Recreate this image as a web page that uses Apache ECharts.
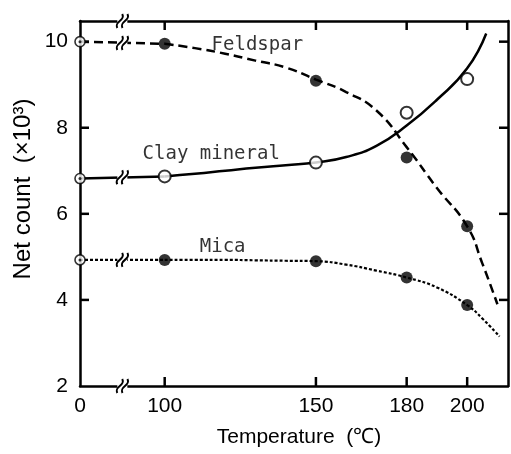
<!DOCTYPE html>
<html>
<head>
<meta charset="utf-8">
<script src="https://cdn.jsdelivr.net/npm/echarts@6/dist/echarts.min.js"></script>
<style>html,body{margin:0;padding:0;background:#fff}#c{width:511px;height:454px}</style>
</head>
<body>
<div id="c"></div>
<script>
// ---- data ----
const temps = [0, 100, 150, 180, 200];
const xTickLabels = [0, 100, 150, 180, 200];
const yTickLabels = [2, 4, 6, 8, 10];

const feldsparPts = [10.0, 9.95, 9.09, 7.31, 5.71];
const clayPts     = [6.82, 6.87, 7.19, 8.35, 9.13];
const micaPts     = [4.93, 4.93, 4.90, 4.52, 3.88];

// fitted curves (from 100 °C on)
const feldsparCurveT = [100, 110, 120, 130, 140, 150, 160, 170, 180, 190, 200, 205, 210];
const feldsparCurveV = [9.95, 9.85, 9.72, 9.56, 9.40, 9.12, 8.83, 8.40, 7.55, 6.60, 5.71, 4.85, 3.90];

const clayCurveT = [100, 110, 120, 130, 140, 150, 160, 170, 180, 190, 200, 206.3];
const clayCurveV = [6.87, 6.93, 7.00, 7.07, 7.13, 7.19, 7.32, 7.58, 8.05, 8.65, 9.38, 10.19];

const micaCurveT = [100, 110, 120, 130, 140, 150, 160, 170, 180, 190, 200, 205, 210.7];
const micaCurveV = [4.93, 4.93, 4.93, 4.92, 4.91, 4.90, 4.82, 4.68, 4.52, 4.29, 3.88, 3.57, 3.15];

const seriesNames = ['Feldspar', 'Clay mineral', 'Mica'];
const breakLevels = [9.97, 6.85, 4.93];   // curve heights at the axis break

// ---- broken-axis mapping ----
const ZERO_POS = 72, BREAK_POS = 86, X_MAX = 213.5, Y_MIN = 2, Y_MAX = 10.48;
const pos = t => (t === 0 ? ZERO_POS : t);
const pairs = (ts, vs) => ts.map((t, i) => [pos(t), vs[i]]);

const font = 'Liberation Sans, Arial, sans-serif';
const black = '#000';
const TICK_LEN = 9;

function firstPt(vals) { return [[pos(temps[0]), vals[0]]]; }
function restPts(vals) { return temps.slice(1).map((t, i) => [pos(t), vals[i + 1]]); }
function stub(vals) { return pairs(temps.slice(0, 2), vals.slice(0, 2)); }   // straight 0 -> 100 segment

const breakData = [[BREAK_POS, Y_MAX], [BREAK_POS, Y_MIN]].concat(breakLevels.map(v => [BREAK_POS, v]));
const xTickData = [];
xTickLabels.slice(1).forEach(t => { xTickData.push([t, Y_MIN, 1]); xTickData.push([t, Y_MAX, -1]); });
const yTickData = [];
yTickLabels.slice(1).forEach(v => { yTickData.push([ZERO_POS, v, 1]); yTickData.push([X_MAX, v, -1]); });

const chart = echarts.init(document.getElementById('c'), null, {renderer: 'canvas'});
const axisLineStyle = {color: black, width: 2.5};
const opens = firstPt(feldsparPts).concat(firstPt(clayPts), firstPt(micaPts));

const styles = [
  {color: black, width: 2.5, type: [9, 5]},
  {color: black, width: 2.5, type: 'solid'},
  {color: black, width: 2.2, type: [3, 2]}
];
const curves = [pairs(feldsparCurveT, feldsparCurveV), pairs(clayCurveT, clayCurveV), pairs(micaCurveT, micaCurveV)];
const stubs = [stub(feldsparPts), stub(clayPts), stub(micaPts)];

const lineSeries = [];
for (let i = 0; i < 3; i++) {
  lineSeries.push({type: 'line', name: seriesNames[i], data: curves[i], smooth: 0.5,
    showSymbol: false, symbol: 'none', lineStyle: styles[i], z: 2});
  lineSeries.push({type: 'line', name: seriesNames[i], data: stubs[i], smooth: false,
    showSymbol: false, symbol: 'none', lineStyle: styles[i], z: 2});
}

chart.setOption({
  animation: false,
  backgroundColor: '#fff',
  grid: {left: 80, right: 3, top: 21, bottom: 68},
  xAxis: [{
    type: 'value', min: ZERO_POS, max: X_MAX, position: 'bottom',
    axisLine: {show: true, onZero: false, lineStyle: axisLineStyle},
    axisTick: {show: false},
    axisLabel: {customValues: xTickLabels.map(pos), formatter: v => (v === ZERO_POS ? '0' : String(v)),
      color: black, fontSize: 21, fontFamily: font, margin: 10},
    splitLine: {show: false},
    name: 'Temperature  (\u2103)', nameLocation: 'middle', nameGap: 41,
    nameTextStyle: {color: black, fontSize: 21, fontFamily: font, padding: [0, 0, 0, 10]}
  }, {
    type: 'value', min: ZERO_POS, max: X_MAX, position: 'top',
    axisLine: {show: true, onZero: false, lineStyle: axisLineStyle},
    axisTick: {show: false}, axisLabel: {show: false}, splitLine: {show: false}
  }],
  yAxis: [{
    type: 'value', min: Y_MIN, max: Y_MAX, position: 'left',
    axisLine: {show: true, onZero: false, lineStyle: axisLineStyle},
    axisTick: {show: false},
    axisLabel: {customValues: yTickLabels, color: black, fontSize: 21, fontFamily: font, margin: 12},
    splitLine: {show: false}
  }, {
    type: 'value', min: Y_MIN, max: Y_MAX, position: 'right',
    axisLine: {show: true, onZero: false, lineStyle: axisLineStyle},
    axisTick: {show: false}, axisLabel: {show: false}, splitLine: {show: false}
  }],
  graphic: [{
    type: 'text', x: 23, y: 189, rotation: Math.PI / 2,
    style: {text: 'Net count  (\u00d710\u00b3)', fill: black, fontSize: 24, fontFamily: font,
      textAlign: 'center', textVerticalAlign: 'middle'}
  }],
  series: lineSeries.concat([
    {type: 'custom', data: xTickData, z: 4, clip: false,
      renderItem: function (params, api) {
        const p = api.coord([api.value(0), api.value(1)]);
        const d = api.value(2);
        return {type: 'line', shape: {x1: p[0], y1: p[1], x2: p[0], y2: p[1] - d * TICK_LEN},
          style: {stroke: black, lineWidth: 2.5}};
      }},
    {type: 'custom', data: yTickData, z: 4, clip: false,
      renderItem: function (params, api) {
        const p = api.coord([api.value(0), api.value(1)]);
        const d = api.value(2);
        return {type: 'line', shape: {x1: p[0], y1: p[1], x2: p[0] + d * TICK_LEN, y2: p[1]},
          style: {stroke: black, lineWidth: 2.5}};
      }},
    {type: 'custom', data: breakData, z: 5, clip: false,
      renderItem: function (params, api) {
        const p = api.coord([api.value(0), api.value(1)]);
        const cx = p[0], cy = p[1];
        const children = [{type: 'rect', shape: {x: cx - 5, y: cy - 7, width: 10, height: 14}, style: {fill: '#fff'}}];
        [-2.6, 2.6].forEach(function (dx) {
          children.push({type: 'bezierCurve',
            shape: {x1: cx + dx - 2.5, y1: cy + 7, cpx1: cx + dx - 6, cpy1: cy, cpx2: cx + dx + 6, cpy2: cy, x2: cx + dx + 2.5, y2: cy - 7},
            style: {stroke: black, lineWidth: 2, fill: null}});
        });
        return {type: 'group', children: children};
      }},
    {type: 'scatter', data: restPts(feldsparPts).concat(restPts(micaPts)), symbol: 'circle', symbolSize: 12,
      itemStyle: {color: black}, z: 6, clip: false},
    {type: 'scatter', data: restPts(clayPts), symbol: 'circle', symbolSize: 12,
      itemStyle: {color: '#fff', borderColor: black, borderWidth: 2}, z: 6, clip: false},
    {type: 'scatter', data: opens, symbol: 'circle', symbolSize: 10,
      itemStyle: {color: '#fff', borderColor: black, borderWidth: 1.6}, z: 7, clip: false},
    {type: 'scatter', data: opens, symbol: 'circle', symbolSize: 3,
      itemStyle: {color: black}, z: 8, clip: false},
    {type: 'scatter', symbolSize: 0, z: 9, clip: false,
      data: [
        {name: seriesNames[0], value: [115.5, 9.92]},
        {name: seriesNames[1], value: [92.7, 7.38]},
        {name: seriesNames[2], value: [111.6, 5.22]}
      ],
      label: {show: true, position: 'right', distance: 0, formatter: '{b}', color: black,
        fontSize: 19, fontFamily: 'DejaVu Sans Mono, Liberation Mono, monospace'}}
  ])
});
</script>
</body>
</html>
